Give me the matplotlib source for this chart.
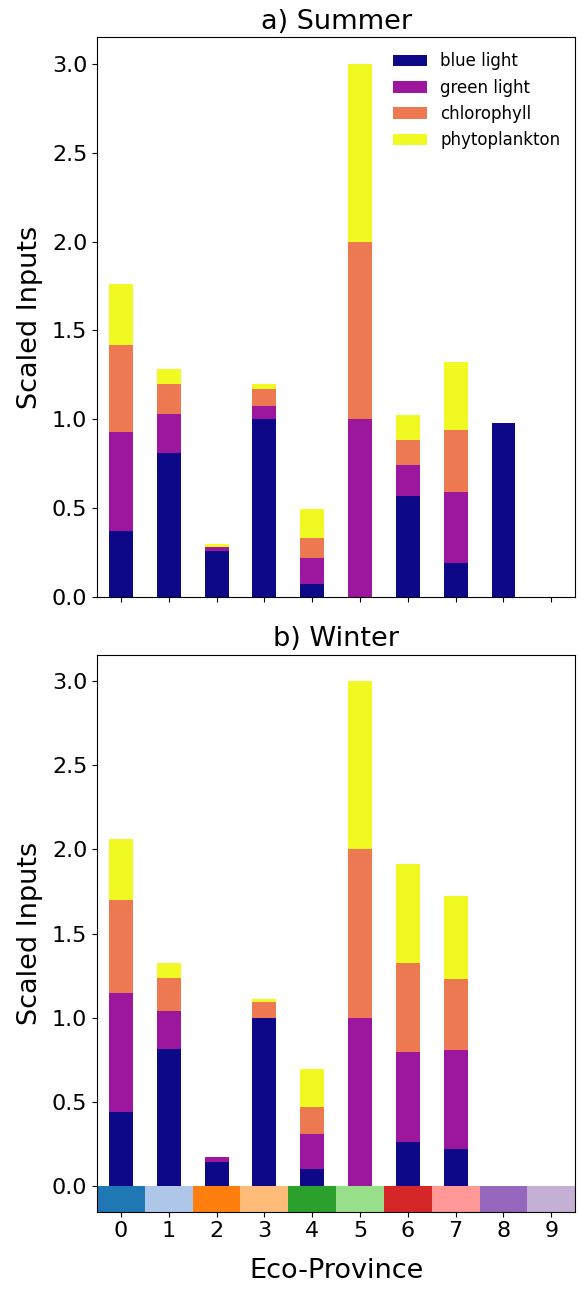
import numpy as np
import matplotlib.pyplot as plt

# --- data ---
provinces = np.arange(10)
components = ['blue light', 'green light', 'chlorophyll', 'phytoplankton']
comp_colors = ['#0d0887', '#9c179e', '#ed7953', '#f0f921']

summer_blue  = [0.37, 0.81, 0.257, 1.00, 0.071, 0.0, 0.565, 0.192, 0.98, 0.0]
summer_green = [0.557, 0.22, 0.021, 0.077, 0.147, 1.0, 0.178, 0.396, 0.0, 0.0]
summer_chl   = [0.493, 0.168, 0.005, 0.092, 0.115, 1.0, 0.14, 0.353, 0.0, 0.0]
summer_phyto = [0.344, 0.083, 0.014, 0.03, 0.159, 1.0, 0.142, 0.379, 0.0, 0.0]

winter_blue  = [0.443, 0.815, 0.143, 1.00, 0.104, 0.0, 0.266, 0.221, 0.0, 0.0]
winter_green = [0.706, 0.228, 0.03, 0.0, 0.207, 1.0, 0.532, 0.588, 0.0, 0.0]
winter_chl   = [0.549, 0.192, 0.0, 0.097, 0.161, 1.0, 0.528, 0.422, 0.0, 0.0]
winter_phyto = [0.361, 0.089, 0.0, 0.015, 0.225, 1.0, 0.588, 0.495, 0.0, 0.0]

province_colors = plt.get_cmap('tab20').colors[:10]
STRIP = 0.15


def stacked(ax, series):
    bottom = np.zeros(len(provinces))
    for vals, name, c in zip(series, components, comp_colors):
        vals = np.asarray(vals)
        ax.bar(provinces, vals, width=0.5, bottom=bottom, color=c, label=name)
        bottom += vals


fig = plt.figure(figsize=(5.81, 12.89), dpi=100)
ax1 = fig.add_axes([0.167, 0.537, 0.823, 0.434])
ax2 = fig.add_axes([0.167, 0.060, 0.823, 0.432], sharex=ax1)

stacked(ax1, [summer_blue, summer_green, summer_chl, summer_phyto])
stacked(ax2, [winter_blue, winter_green, winter_chl, winter_phyto])

# eco-province colour strip under winter bars
ax2.bar(provinces, [STRIP] * 10, width=1.0, bottom=-STRIP, color=province_colors)

ax1.set_title('a) Summer', fontsize=19.5)
ax2.set_title('b) Winter', fontsize=19.5)
for ax in (ax1, ax2):
    ax.set_ylabel('Scaled Inputs', fontsize=19.5, labelpad=6)
    ax.tick_params(labelsize=16)
    ax.set_yticks(np.arange(0, 3.01, 0.5))
ax1.set_xlim(-0.5, 9.5)
ax1.set_xticks(provinces)
ax1.tick_params(axis='x', labelbottom=False)
ax2.set_xlabel('Eco-Province', fontsize=19.5, labelpad=12)
ax1.set_ylim(0, 3.15)
ax2.set_ylim(-STRIP, 3.155)

ax1.legend(frameon=False, fontsize=12, loc='upper right')

fig.savefig('out.png', dpi=100)
